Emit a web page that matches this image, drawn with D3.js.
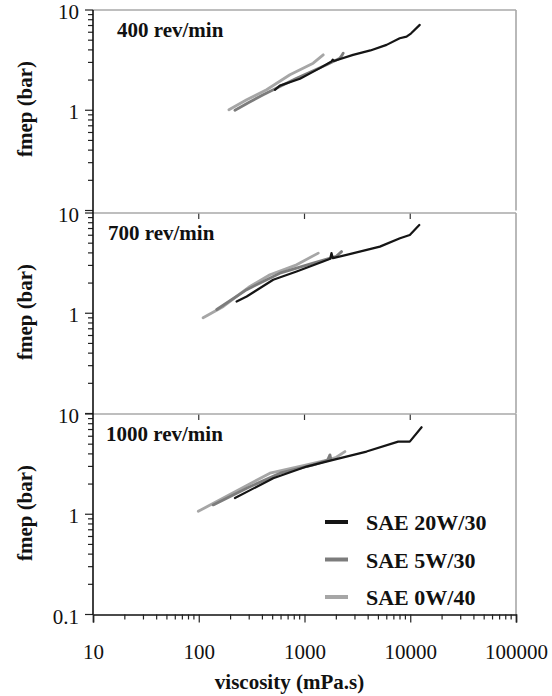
<!DOCTYPE html>
<html>
<head>
<meta charset="utf-8">
<script src="https://cdn.jsdelivr.net/npm/d3@7"></script>
<style>
  body { margin: 0; background: #fff; }
  text { font-family: "Liberation Serif", "Times New Roman", serif; fill: #111; }
</style>
</head>
<body>
<script>
// panel speeds and series names
var speeds = ["400 rev/min", "700 rev/min", "1000 rev/min"];
var oils = ["SAE 20W/30", "SAE 5W/30", "SAE 0W/40"];
var oilColors = ["#151515", "#7c7c7c", "#a6a6a6"];

var xTicks = [10, 100, 1000, 10000, 100000];
var yTicks = [0.1, 1, 10];

// [viscosity mPa.s, fmep bar]
var r400_20w30 = [[525, 1.6], [585, 1.76], [906, 2.06], [1397, 2.63], [1800, 3.06], [1850, 3.2], [1900, 3.1], [2880, 3.57], [4200, 3.95], [5970, 4.49], [7950, 5.22], [9230, 5.43], [10200, 5.86], [12300, 7.1]];
var r400_5w30 = [[220, 1.0], [300, 1.2], [407, 1.43], [842, 2.09], [1617, 2.84], [2160, 3.31], [2250, 3.5], [2322, 3.71]];
var r400_0w40 = [[193, 1.01], [284, 1.27], [438, 1.6], [728, 2.26], [1208, 2.95], [1503, 3.57]];

var r700_20w30 = [[228, 1.31], [284, 1.47], [506, 2.16], [842, 2.61], [1500, 3.28], [1750, 3.5], [1800, 3.98], [1850, 3.55], [2500, 3.82], [5160, 4.62], [8000, 5.6], [9900, 6.04], [12170, 7.6]];
var r700_5w30 = [[148, 1.09], [284, 1.72], [585, 2.51], [1208, 3.16], [2000, 3.7], [2240, 4.12]];
var r700_0w40 = [[110, 0.9], [171, 1.17], [305, 1.85], [471, 2.42], [842, 3.04], [1350, 3.98]];

var r1000_20w30 = [[220, 1.45], [506, 2.29], [1047, 2.99], [1870, 3.49], [3860, 4.22], [7690, 5.3], [9900, 5.3], [12800, 7.38]];
var r1000_5w30 = [[137, 1.24], [284, 1.82], [585, 2.57], [1208, 3.11], [1650, 3.45], [1740, 3.91], [1780, 3.5]];
var r1000_0w40 = [[99, 1.07], [197, 1.57], [471, 2.57], [1047, 3.11], [1675, 3.49], [2000, 3.7], [2410, 4.22]];

var panelData = [
    [r400_20w30, r400_5w30, r400_0w40],
    [r700_20w30, r700_5w30, r700_0w40],
    [r1000_20w30, r1000_5w30, r1000_0w40]
];

var svg = d3.select("body")
    .append("svg")
    .attr("width", 552)
    .attr("height", 696);

var left = 93, right = 516;
var tops = [10, 213, 414];
var panelH = 200.5;
var bottom = tops[2] + panelH;

var x = d3.scaleLog().domain([10, 100000]).range([left, right]);

// minor tick values for log axes
function minors(lo, hi) {
    var out = [];
    for (var d = lo; d < hi; d *= 10) {
        for (var k = 2; k <= 9; k++) out.push(d * k);
    }
    return out;
}

tops.forEach(function (top, i) {
    var y = d3.scaleLog().domain([0.1, 10]).range([top + panelH, top]);
    var g = svg.append("g");

    // left axis ticks
    var labels = i == 2 ? yTicks : [1, 10];
    g.selectAll(".ymaj").data(yTicks).enter().append("line")
        .attr("x1", left - 8).attr("x2", left)
        .attr("y1", function (d) { return y(d); })
        .attr("y2", function (d) { return y(d); })
        .attr("stroke", "#222").attr("stroke-width", 1.2);
    g.selectAll(".ymin").data(minors(0.1, 10)).enter().append("line")
        .attr("x1", left - 5).attr("x2", left)
        .attr("y1", function (d) { return y(d); })
        .attr("y2", function (d) { return y(d); })
        .attr("stroke", "#222").attr("stroke-width", 1.2);
    g.selectAll(".ylab").data(labels).enter().append("text")
        .attr("x", left - 14)
        .attr("y", function (d) { return y(d) + 9; })
        .attr("text-anchor", "end")
        .style("font-size", "21px")
        .text(function (d) { return d; });

    // separator ticks pointing into the panel
    if (i > 0) {
        g.selectAll(".sep").data([100, 1000, 10000]).enter().append("line")
            .attr("x1", function (d) { return x(d); })
            .attr("x2", function (d) { return x(d); })
            .attr("y1", top).attr("y2", top + 6)
            .attr("stroke", "#333").attr("stroke-width", 1.2);
    }

    // top and right frame
    g.append("line")
        .attr("x1", left).attr("x2", right)
        .attr("y1", top).attr("y2", top)
        .attr("stroke", "#a8a8a8").attr("stroke-width", 1.6);
    g.append("line")
        .attr("x1", right).attr("x2", right)
        .attr("y1", top).attr("y2", top + panelH)
        .attr("stroke", "#a8a8a8").attr("stroke-width", 1.6);

    // data traces
    var line = d3.line()
        .x(function (d) { return x(d[0]); })
        .y(function (d) { return y(d[1]); });
    panelData[i].slice().reverse().forEach(function (s, j) {
        var k = 2 - j;
        g.append("path")
            .attr("d", line(s))
            .attr("fill", "none")
            .attr("stroke", oilColors[k])
            .attr("stroke-width", k == 0 ? 2.2 : 2.8)
            .attr("stroke-linejoin", "round")
            .attr("stroke-linecap", "round");
    });

    g.append("text")
        .attr("x", [117, 108, 106][i])
        .attr("y", top + 27)
        .style("font-size", "21px")
        .style("font-weight", "bold")
        .text(speeds[i]);

    g.append("text")
        .attr("transform", "translate(32," + (top + 99) + ") rotate(-90)")
        .attr("text-anchor", "middle")
        .style("font-size", "21px")
        .style("font-weight", "bold")
        .text("fmep (bar)");
});

// left axis line
svg.append("line")
    .attr("x1", left).attr("x2", left)
    .attr("y1", tops[0]).attr("y2", bottom)
    .attr("stroke", "#111").attr("stroke-width", 1.6);

// bottom axis
var xAxis = d3.axisBottom(x)
    .tickValues(xTicks)
    .tickFormat(d3.format("d"))
    .tickSize(8)
    .tickPadding(22);
var ax = svg.append("g")
    .attr("transform", "translate(0," + bottom + ")")
    .call(xAxis);
ax.select(".domain").attr("stroke", "#111").attr("stroke-width", 1.6);
ax.selectAll(".tick line").attr("stroke", "#222").attr("stroke-width", 1.2);
ax.selectAll(".tick text")
    .style("font-family", "Liberation Serif")
    .style("font-size", "21px")
    .attr("fill", "#111");
svg.append("g").selectAll("line").data(minors(10, 100000)).enter().append("line")
    .attr("x1", function (d) { return x(d); })
    .attr("x2", function (d) { return x(d); })
    .attr("y1", bottom).attr("y2", bottom + 5)
    .attr("stroke", "#222").attr("stroke-width", 1.2);

svg.append("text")
    .attr("x", (left + right) / 2 - 15)
    .attr("y", 689)
    .attr("text-anchor", "middle")
    .style("font-size", "21px")
    .style("font-weight", "bold")
    .text("viscosity (mPa.s)");

// legend
var legend = svg.append("g");
oils.forEach(function (o, i) {
    var ly = 522 + i * 37.5;
    legend.append("line")
        .attr("x1", 325).attr("x2", 348)
        .attr("y1", ly).attr("y2", ly)
        .attr("stroke", oilColors[i]).attr("stroke-width", 4);
    legend.append("text")
        .attr("x", 366).attr("y", ly + 8)
        .style("font-size", "22px")
        .style("font-weight", "bold")
        .text(o);
});
</script>
</body>
</html>
